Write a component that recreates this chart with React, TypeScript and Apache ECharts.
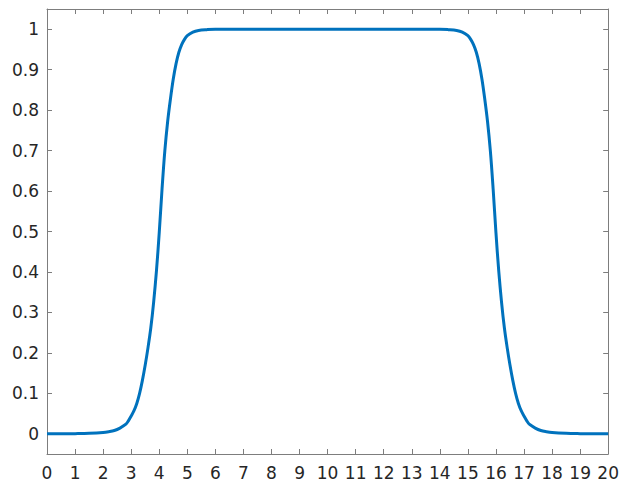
import React, { useEffect, useRef } from "react";
import * as echarts from "echarts";

// Curve samples
const riseX = [0, 0.5, 1, 1.5, 2, 2.2, 2.4, 2.6, 2.8, 2.9, 3.0, 3.1, 3.2, 3.3, 3.4, 3.5, 3.6, 3.7, 3.8, 3.9, 4.0, 4.1, 4.2, 4.3, 4.4, 4.5, 4.6, 4.7, 4.8, 4.9, 5.0, 5.2, 5.4, 5.7, 6];
const riseY = [0, 0, 0.0003, 0.001, 0.003, 0.005, 0.008, 0.014, 0.023, 0.032, 0.044, 0.057, 0.075, 0.1, 0.132, 0.17, 0.213, 0.262, 0.325, 0.402, 0.497, 0.605, 0.7, 0.772, 0.828, 0.877, 0.915, 0.943, 0.962, 0.975, 0.984, 0.993, 0.997, 0.999, 1];
const plateauX = [7, 8, 9, 10, 11, 12, 13];
const plateauY = [1, 1, 1, 1, 1, 1, 1];
const fallX = [14, 14.3, 14.6, 14.8, 15.0, 15.1, 15.2, 15.3, 15.4, 15.5, 15.6, 15.7, 15.8, 15.9, 16.0, 16.1, 16.2, 16.3, 16.4, 16.5, 16.6, 16.7, 16.8, 16.9, 17.0, 17.1, 17.2, 17.4, 17.6, 17.8, 18, 18.5, 19, 19.5, 20];
const fallY = [1, 0.999, 0.997, 0.993, 0.984, 0.975, 0.962, 0.943, 0.915, 0.877, 0.828, 0.772, 0.7, 0.605, 0.497, 0.402, 0.325, 0.262, 0.213, 0.17, 0.132, 0.1, 0.075, 0.057, 0.044, 0.032, 0.023, 0.014, 0.008, 0.005, 0.003, 0.001, 0.0003, 0, 0];

const yTicks = [0, 0.1, 0.2, 0.3, 0.4, 0.5, 0.6, 0.7, 0.8, 0.9, 1];
const yTickLabels = ["0", "0.1", "0.2", "0.3", "0.4", "0.5", "0.6", "0.7", "0.8", "0.9", "1"];

const xs = [...riseX, ...plateauX, ...fallX];
const ys = [...riseY, ...plateauY, ...fallY];

export default function App() {
  const ref = useRef<HTMLDivElement>(null);
  useEffect(() => {
    if (!ref.current) return;
    const chart = echarts.init(ref.current, undefined, { renderer: "svg" });
    const axisColor = "#7d7d7d";
    const textColor = "#262626";
    const font = "DejaVu Sans";
    const baseX = {
      type: "value" as const,
      min: 0,
      max: 20,
      interval: 1,
      splitLine: { show: false },
      axisLine: { show: true, onZero: false, lineStyle: { color: axisColor, width: 1 } },
      axisTick: { show: true, inside: true, length: 5, lineStyle: { color: axisColor } },
    };
    const baseY = {
      type: "value" as const,
      min: -0.05,
      max: 1.05,
      splitLine: { show: false },
      axisLine: { show: true, onZero: false, lineStyle: { color: axisColor, width: 1 } },
      axisTick: { show: true, inside: true, length: 5, customValues: yTicks, lineStyle: { color: axisColor } },
    };
    chart.setOption({
      animation: false,
      backgroundColor: "#ffffff",
      grid: { left: 47, right: 11, top: 9, bottom: 33, containLabel: false },
      xAxis: [
        {
          ...baseX,
          position: "bottom",
          axisLabel: { show: true, color: textColor, fontFamily: font, fontSize: 17, margin: 10 },
        },
        {
          ...baseX,
          position: "top",
          axisLabel: { show: false },
        },
      ],
      yAxis: [
        {
          ...baseY,
          position: "left",
          axisLabel: {
            show: true,
            customValues: yTicks,
            color: textColor,
            fontFamily: font,
            fontSize: 17,
            margin: 8,
            formatter: (v: number) => {
              const i = yTicks.findIndex((t) => Math.abs(t - v) < 1e-9);
              return i >= 0 ? yTickLabels[i] : "";
            },
          },
        },
        {
          ...baseY,
          position: "right",
          axisLabel: { show: false },
        },
      ],
      series: [
        {
          type: "line",
          xAxisIndex: 0,
          yAxisIndex: 0,
          data: xs.map((x, i) => [x, ys[i]]),
          showSymbol: false,
          smooth: 0.35,
          lineStyle: { color: "#0072BD", width: 3 },
        },
      ],
    });
    return () => chart.dispose();
  }, []);
  return (
    <div
      ref={ref}
      style={{ position: "fixed", left: 0, top: 0, width: 622, height: 487 }}
    />
  );
}
